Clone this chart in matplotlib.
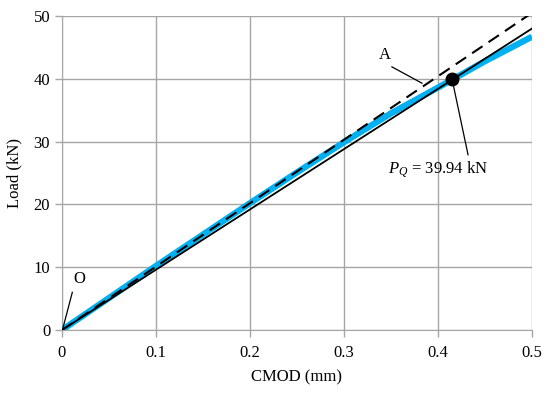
import numpy as np
import matplotlib
matplotlib.use("Agg")
import matplotlib.pyplot as plt

# measured curve (CMOD in mm, load in kN)
cmod = [0, 0.05, 0.1, 0.15, 0.2, 0.25, 0.3, 0.35, 0.4, 0.45, 0.5]
load = [0, 5.1, 10.2, 15.2, 20.2, 25.1, 29.9, 34.5, 38.6, 42.8, 46.7]

# initial tangent (dashed) and 5% secant (solid)
tangent_x = [0, 0.5]
tangent_y = [0, 50.5]
secant_x = [0, 0.5]
secant_y = [0, 48.0]

pq_x = 0.415
pq_y = 39.94

xticks = [0, 0.1, 0.2, 0.3, 0.4, 0.5]
xticklabels = ["0", "0.1", "0.2", "0.3", "0.4", "0.5"]
yticks = [0, 10, 20, 30, 40, 50]

plt.rcParams['font.family'] = ['Liberation Serif', 'DejaVu Serif']
plt.rcParams['mathtext.fontset'] = 'custom'
plt.rcParams['mathtext.rm'] = 'Liberation Serif'
plt.rcParams['mathtext.it'] = 'Liberation Serif:italic'
fig = plt.figure(figsize=(5.5, 3.97), dpi=100)
ax = fig.add_axes([0.1127, 0.1688, 0.8545, 0.7909])

gc = "#a6a6a6"
ax.plot(cmod, load, color="#00b0f0", lw=4.5, solid_capstyle="butt", zorder=3)
ax.plot(secant_x, secant_y, color="black", lw=1.3, zorder=4)
ax.plot(tangent_x, tangent_y, color="black", lw=1.5, ls=(0, (6, 3.5)), zorder=4)
ax.plot([pq_x], [pq_y], "o", color="black", ms=9, zorder=6)

ax.set_xlim(0, 0.5)
ax.set_ylim(0, 50)
ax.set_xticks(xticks)
ax.set_xticklabels(xticklabels)
ax.set_yticks(yticks)
ax.grid(True, color=gc, lw=1.0)
ax.set_axisbelow(True)
for s in ax.spines.values():
    s.set_visible(False)
ax.spines['left'].set_visible(True)
ax.spines['bottom'].set_visible(True)
ax.spines['left'].set_color(gc)
ax.spines['bottom'].set_color(gc)
ax.tick_params(axis="both", colors=gc, length=5, width=1.0, labelsize=12, labelcolor="black")
ax.tick_params(axis="x", pad=6)

ax.set_xlabel("CMOD (mm)", fontsize=12, labelpad=6)
ax.set_ylabel("Load (kN)", fontsize=12, labelpad=8)

# annotations
ax.plot([0.351, 0.383], [41.9, 39.3], color="black", lw=0.9, zorder=5)
ax.text(0.343, 43.8, "A", fontsize=12, ha="center", va="center")
ax.plot([0.011, 0.001], [6.0, 0.3], color="black", lw=0.9, zorder=5)
ax.text(0.018, 8.1, "O", fontsize=12, ha="center", va="center")
ax.plot([pq_x, 0.432], [pq_y, 27.9], color="black", lw=0.9, zorder=5)
ax.text(0.347, 25.5, "$P_Q$ = 39.94 kN", fontsize=12, ha="left", va="center")

fig.savefig("out.png", dpi=100)
